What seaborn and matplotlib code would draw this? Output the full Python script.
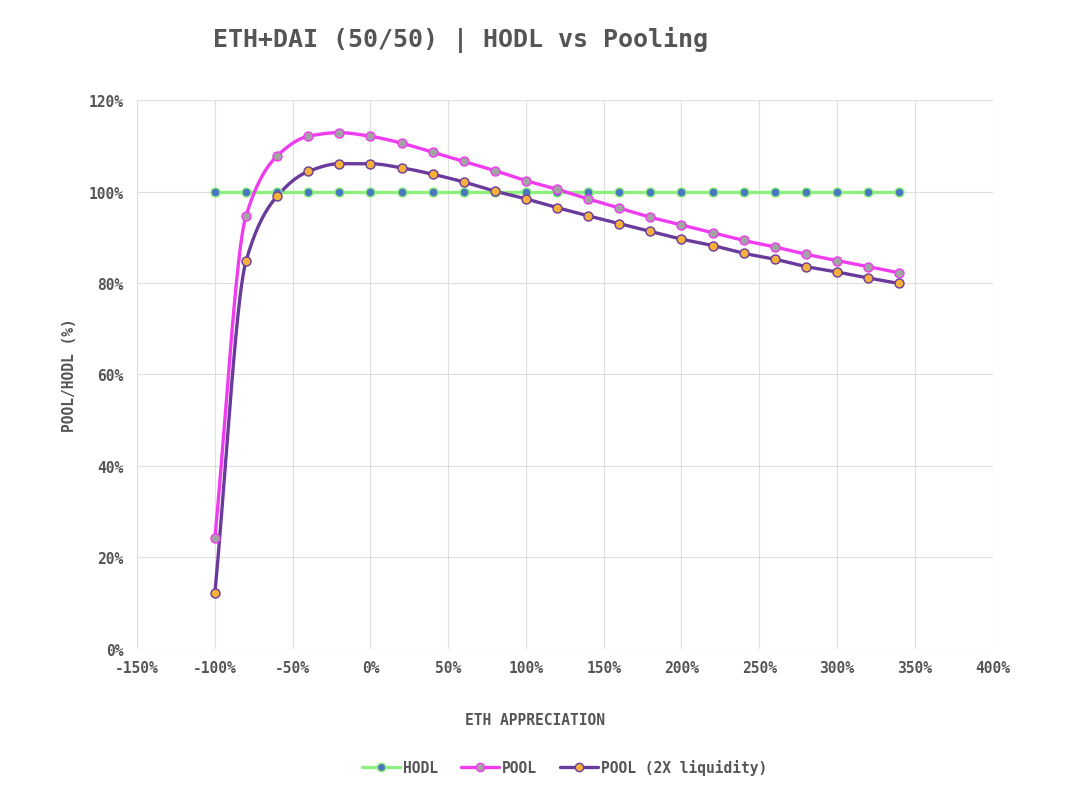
import numpy as np
import pandas as pd
import matplotlib
matplotlib.use("Agg")
import matplotlib.pyplot as plt
from matplotlib.lines import Line2D
from matplotlib.ticker import PercentFormatter
import seaborn as sns

# ETH price change (%) and pool/hodl ratio (%)
eth_change = [-100, -80, -60, -40, -20, 0, 20, 40, 60, 80, 100, 120,
              140, 160, 180, 200, 220, 240, 260, 280, 300, 320, 340]
hodl = [100] * 23
pool = [24.3, 94.7, 107.8, 112.1, 112.9, 112.1, 110.6, 108.6, 106.6, 104.6, 102.4, 100.5,
        98.4, 96.4, 94.4, 92.7, 91.0, 89.3, 87.9, 86.3, 84.9, 83.6, 82.2]
pool_2x = [12.2, 84.8, 99.0, 104.4, 106.1, 106.1, 105.2, 103.8, 102.1, 100.1, 98.4, 96.5,
           94.7, 93.0, 91.3, 89.6, 88.2, 86.5, 85.2, 83.6, 82.4, 81.1, 79.9]

series_names = ["HODL", "POOL", "POOL (2X liquidity)"]
line_colors = ["#8cf07c", "#f03cf0", "#6a3a9c"]
marker_colors = ["#4a78c0", "#a3a3a3", "#f6b03c"]


def smooth_path(x, y, n=20):
    # monotone cubic (pchip) path through the points, just for the drawn line
    x = np.asarray(x, float)
    y = np.asarray(y, float)
    h = np.diff(x)
    d = np.diff(y) / h
    m = np.zeros_like(y)
    for i in range(1, len(y) - 1):
        if d[i - 1] * d[i] > 0:
            w1 = 2 * h[i] + h[i - 1]
            w2 = h[i] + 2 * h[i - 1]
            m[i] = (w1 + w2) / (w1 / d[i - 1] + w2 / d[i])
    m[0] = d[0]
    m[-1] = d[-1]
    xs, ys = [], []
    for i in range(len(x) - 1):
        t = np.linspace(0, 1, n, endpoint=False)
        h00 = 2 * t**3 - 3 * t**2 + 1
        h10 = t**3 - 2 * t**2 + t
        h01 = -2 * t**3 + 3 * t**2
        h11 = t**3 - t**2
        xs.append(x[i] + t * h[i])
        ys.append(h00 * y[i] + h10 * h[i] * m[i] + h01 * y[i + 1] + h11 * h[i] * m[i + 1])
    xs.append([x[-1]])
    ys.append([y[-1]])
    return np.concatenate(xs), np.concatenate(ys)


sns.set_style("whitegrid", {"grid.color": "#dedede", "axes.edgecolor": "#dedede"})
plt.rcParams["font.family"] = ["DejaVu Sans Mono"]
plt.rcParams["font.weight"] = "bold"
plt.rcParams["axes.unicode_minus"] = False

fig = plt.figure(figsize=(10.8, 8.03), dpi=100)
ax = fig.add_axes([0.127, 0.191, 0.792, 0.683])

handles = []
for name, vals, lc, mc in zip(series_names, [hodl, pool, pool_2x], line_colors, marker_colors):
    sx, sy = smooth_path(eth_change, vals)
    sns.lineplot(x=sx, y=sy, ax=ax, color=lc, lw=2.4, sort=False, zorder=2)
    sns.scatterplot(x=eth_change, y=vals, ax=ax, color=mc, edgecolor=lc, linewidth=1.0,
                    s=42, zorder=3)
    handles.append(Line2D([], [], color=lc, lw=2.4, marker="o", markersize=6,
                          markerfacecolor=mc, markeredgecolor=lc, label=name))

ax.set_xlim(-150, 400)
ax.set_ylim(0, 120)
ax.set_xticks(np.arange(-150, 401, 50))
ax.set_yticks(np.arange(0, 121, 20))
ax.xaxis.set_major_formatter(PercentFormatter(decimals=0))
ax.yaxis.set_major_formatter(PercentFormatter(decimals=0))
ax.tick_params(axis="both", length=0, labelsize=10.5, labelcolor="#555555")
ax.tick_params(axis="x", pad=8)
ax.tick_params(axis="y", pad=10)
for lab in ax.get_xticklabels() + ax.get_yticklabels():
    lab.set_fontweight("bold")
for s in ax.spines.values():
    s.set_visible(False)
ax.set_xlabel("")
ax.set_ylabel("POOL/HODL (%)", fontsize=10.5, color="#555555", fontweight="bold", labelpad=8)

fig.text(0.426, 0.95, "ETH+DAI (50/50) | HODL vs Pooling", ha="center", va="center",
         fontsize=18, color="#555555", fontweight="bold")
fig.text(0.495, 0.103, "ETH APPRECIATION", ha="center", va="center",
         fontsize=10.5, color="#555555", fontweight="bold")

fig.legend(handles=handles, loc="center", bbox_to_anchor=(0.523, 0.044), ncol=3,
           frameon=False, handlelength=2.6, handletextpad=0.2, columnspacing=1.6,
           prop={"size": 10.5, "weight": "bold"}, labelcolor="#555555")

fig.savefig("out.png", dpi=100, facecolor="white")
